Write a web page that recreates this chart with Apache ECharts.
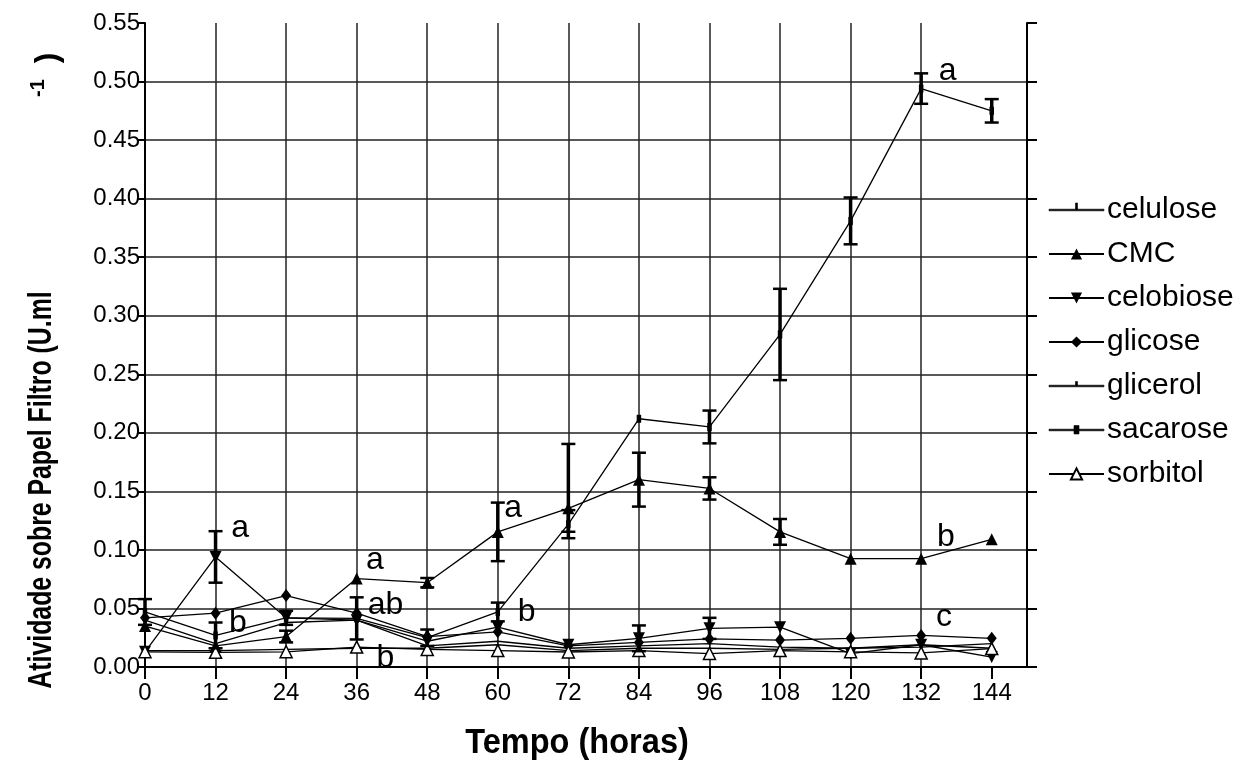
<!DOCTYPE html>
<html>
<head>
<meta charset="utf-8">
<script src="https://cdn.jsdelivr.net/npm/echarts@6/dist/echarts.min.js"></script>
<style>
  html, body { margin: 0; padding: 0; background: #fff; }
  #chart { width: 1249px; height: 764px; }
</style>
</head>
<body>
<div id="chart"></div>
<script>
// Sampling times (hours)
const times = [0, 12, 24, 36, 48, 60, 72, 84, 96, 108, 120, 132, 144];

// Filter-paper activity (U/ml) for each carbon source
const celulose  = [0.040, 0.020, 0.038, 0.040, 0.018, 0.022, 0.016, 0.018, 0.020, 0.017, 0.016, 0.019, 0.016];
const cmc       = [0.035, 0.018, 0.026, 0.0755, 0.072, 0.1154, 0.1355, 0.160, 0.1525, 0.1154, 0.0925, 0.0925, 0.109];
const celobiose = [0.013, 0.094, 0.042, 0.040, 0.022, 0.034, 0.019, 0.0245, 0.033, 0.034, 0.0115, 0.019, 0.0085];
const glicose   = [0.042, 0.046, 0.061, 0.046, 0.026, 0.030, 0.018, 0.021, 0.024, 0.023, 0.0245, 0.027, 0.0245];
const glicerol  = [0.014, 0.014, 0.015, 0.016, 0.016, 0.019, 0.014, 0.016, 0.016, 0.015, 0.016, 0.017, 0.020];
const sacarose  = [0.047, 0.027, 0.042, 0.0415, 0.025, 0.047, 0.122, 0.212, 0.205, 0.284, 0.381, 0.494, 0.475];
const sorbitol  = [0.013, 0.0125, 0.013, 0.017, 0.015, 0.014, 0.0128, 0.014, 0.0115, 0.014, 0.013, 0.012, 0.0157];

// Deviations below / above each mean (0 = no bar drawn)
const errSacaroseLow  = [0.011, 0.011, 0.006, 0.018, 0.007, 0.008, 0.012, 0, 0.014, 0.039, 0.020, 0.013, 0.010];
const errSacaroseHigh = [0.011, 0.011, 0.006, 0.018, 0.007, 0.008, 0.012, 0, 0.014, 0.039, 0.020, 0.013, 0.010];
const errCmcLow       = [0, 0, 0.005, 0, 0.004, 0.025, 0.020, 0.023, 0.0095, 0.011, 0, 0, 0];
const errCmcHigh      = [0, 0, 0.005, 0, 0.004, 0.025, 0.055, 0.023, 0.0095, 0.011, 0, 0, 0];
const errCelobiose    = [0, 0.022, 0, 0, 0, 0, 0, 0.011, 0.009, 0, 0, 0, 0];

// Statistical grouping letters: [time, activity, letter]
const letters = [
  [16.2, 0.1185, 'a'], [15.8, 0.0373, 'b'],
  [39.1, 0.091, 'a'], [40.9, 0.0527, 'ab'], [40.9, 0.0074, 'b'],
  [62.6, 0.1356, 'a'], [64.9, 0.047, 'b'],
  [136.5, 0.5085, 'a'], [136.2, 0.1108, 'b'], [135.9, 0.0427, 'c']
];

const FONT = '"Liberation Sans", Arial, sans-serif';
const zip = (ys) => times.map((t, i) => [t, ys[i]]);

function errRows(ys, lo, hi) {
  const rows = [];
  times.forEach((t, i) => { if (lo[i] > 0 || hi[i] > 0) rows.push([t, ys[i], lo[i], hi[i]]); });
  return rows;
}
const errData = [].concat(
  errRows(sacarose, errSacaroseLow, errSacaroseHigh),
  errRows(cmc, errCmcLow, errCmcHigh),
  errRows(celobiose, errCelobiose, errCelobiose)
);

// Error bar: thick stem with two caps
function renderErr(params, api) {
  const x = api.value(0), y = api.value(1), lo = api.value(2), hi = api.value(3);
  const top = api.coord([x, y + hi]);
  const bot = api.coord([x, y - lo]);
  const hw = 7;
  return {
    type: 'group',
    children: [
      { type: 'line', shape: { x1: top[0], y1: top[1], x2: bot[0], y2: bot[1] }, style: { stroke: '#000', lineWidth: 3.5 } },
      { type: 'line', shape: { x1: top[0] - hw, y1: top[1], x2: top[0] + hw, y2: top[1] }, style: { stroke: '#000', lineWidth: 2.5 } },
      { type: 'line', shape: { x1: bot[0] - hw, y1: bot[1], x2: bot[0] + hw, y2: bot[1] }, style: { stroke: '#000', lineWidth: 2.5 } }
    ]
  };
}

function lineSeries(name, ys, symbol, size, extra) {
  return Object.assign({
    name: name,
    type: 'line',
    data: zip(ys),
    symbol: symbol,
    symbolSize: size,
    symbolKeepAspect: true,
    lineStyle: { color: '#000', width: 1.3 },
    itemStyle: { color: '#000' },
    z: 3
  }, extra || {});
}

const tickPath = 'path://M0,0 L2,0 L2,10 L0,10 Z';
const squarePath = 'path://M0,0 L6,0 L6,8 L0,8 Z';

// Legend icons (55 x 14 box): line with small marker
const BOX = 'M0,0 L0,0 Z M55,14 L55,14 Z ';
const LINE = 'M0,6.2 L55,6.2 L55,7.8 L0,7.8 Z ';
const iconCelulose = 'path://' + BOX + LINE + 'M26.5,0 L28.5,0 L28.5,6.2 L26.5,6.2 Z';
const iconGlicerol = 'path://' + BOX + LINE + 'M26.5,2.5 L28.5,2.5 L28.5,6.2 L26.5,6.2 Z';
const iconSacarose = 'path://' + BOX + LINE + 'M25,2.5 L30,2.5 L30,11 L25,11 Z';
const iconStyle = { color: '#000', borderColor: '#000', borderWidth: 0.6, opacity: 1 };

const chart = echarts.init(document.getElementById('chart'), null, { renderer: 'canvas' });

chart.setOption({
  backgroundColor: '#fff',
  animation: false,
  grid: { left: 145, right: 222, top: 23, bottom: 97, outerBoundsMode: 'none' },
  xAxis: {
    type: 'value',
    min: 0, max: 150, interval: 12,
    axisLine: { show: true, lineStyle: { color: '#000', width: 2 } },
    axisTick: { show: true, length: 12, customValues: times, lineStyle: { color: '#000', width: 2 } },
    axisLabel: { customValues: times, fontSize: 24, fontFamily: FONT, color: '#000', margin: 14 },
    splitLine: { show: true, showMinLine: false, showMaxLine: false, lineStyle: { color: '#222', width: 1.5 } }
  },
  yAxis: [{
    type: 'value',
    min: 0, max: 0.55, interval: 0.05,
    axisLine: { show: true, lineStyle: { color: '#000', width: 2 } },
    axisTick: { show: true, length: 8, lineStyle: { color: '#000', width: 2 } },
    axisLabel: { fontSize: 24, fontFamily: FONT, color: '#000', margin: 5, formatter: (v) => v.toFixed(2) },
    splitLine: { show: true, showMinLine: false, showMaxLine: false, lineStyle: { color: '#222', width: 1.5 } }
  }, {
    type: 'value',
    position: 'right',
    min: 0, max: 0.55, interval: 0.05,
    axisLine: { show: true, lineStyle: { color: '#000', width: 2 } },
    axisTick: { show: true, length: 10, lineStyle: { color: '#000', width: 2 } },
    axisLabel: { show: false },
    splitLine: { show: false }
  }],
  legend: {
    orient: 'vertical',
    left: 1043, top: 190,
    itemWidth: 55, itemHeight: 14, itemGap: 14,
    data: [
      { name: 'celulose', icon: iconCelulose, itemStyle: iconStyle },
      'CMC', 'celobiose', 'glicose',
      { name: 'glicerol', icon: iconGlicerol, itemStyle: iconStyle },
      { name: 'sacarose', icon: iconSacarose, itemStyle: iconStyle },
      'sorbitol'
    ],
    textStyle: { fontSize: 30, fontFamily: FONT, color: '#000', lineHeight: 28, padding: [0, 0, 0, -2] },
    selectedMode: false
  },
  graphic: [
    {
      type: 'text', x: 42, y: 490, rotation: Math.PI / 2, scaleX: 0.73,
      style: { text: 'Atividade sobre Papel Filtro (U.ml', font: 'bold 34px ' + FONT, fill: '#000', align: 'center', verticalAlign: 'middle' }
    },
    {
      type: 'text', x: 38, y: 88, rotation: Math.PI / 2,
      style: { text: '-1', font: 'bold 20px ' + FONT, fill: '#000', align: 'center', verticalAlign: 'middle' }
    },
    {
      type: 'text', x: 48, y: 58, rotation: Math.PI / 2,
      style: { text: ')', font: 'bold 32px ' + FONT, fill: '#000', align: 'center', verticalAlign: 'middle' }
    },
    {
      type: 'text', x: 577, y: 743, scaleX: 0.93,
      style: { text: 'Tempo (horas)', font: 'bold 35px ' + FONT, fill: '#000', align: 'center', verticalAlign: 'middle' }
    }
  ],
  series: [
    lineSeries('celulose', celulose, tickPath, [2, 8]),
    lineSeries('CMC', cmc, 'triangle', 12),
    lineSeries('celobiose', celobiose, 'triangle', 12, { symbolRotate: 180 }),
    lineSeries('glicose', glicose, 'diamond', [10, 13]),
    lineSeries('glicerol', glicerol, tickPath, [2, 6]),
    lineSeries('sacarose', sacarose, squarePath, [6, 8]),
    lineSeries('sorbitol', sorbitol, 'triangle', 12, { itemStyle: { color: '#fff', borderColor: '#000', borderWidth: 1.5 } }),
    {
      type: 'custom',
      renderItem: renderErr,
      data: errData,
      encode: { x: 0, y: 1 },
      z: 4,
      silent: true
    },
    {
      type: 'scatter',
      data: letters,
      symbolSize: 0,
      silent: true,
      z: 5,
      itemStyle: { opacity: 1 },
      label: {
        show: true, position: 'inside', opacity: 1,
        formatter: (p) => p.data[2],
        fontSize: 32, fontFamily: FONT, color: '#000'
      }
    }
  ]
});
</script>
</body>
</html>
